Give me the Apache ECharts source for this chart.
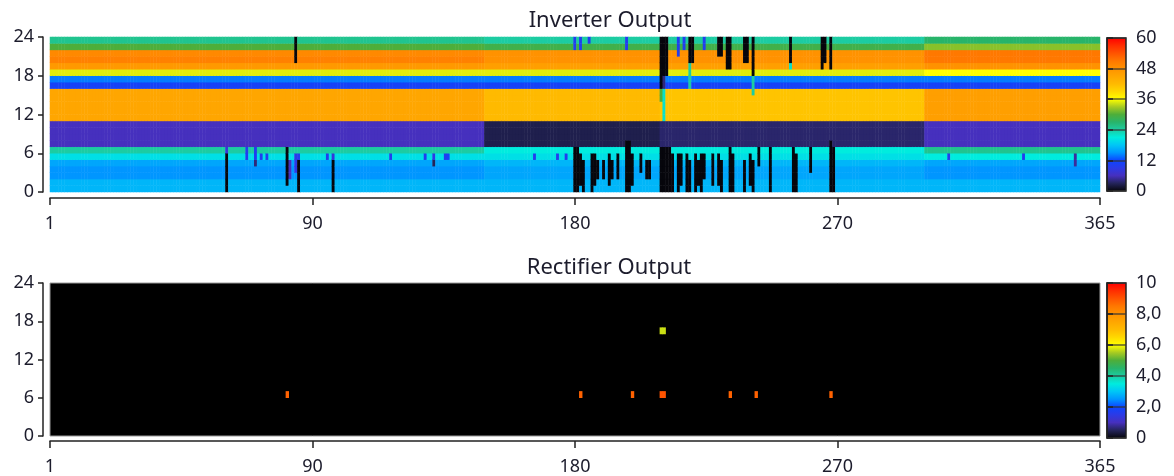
<!DOCTYPE html>
<html>
<head>
<meta charset="utf-8">
<script src="https://cdn.jsdelivr.net/npm/echarts@6/dist/echarts.min.js"></script>
<style>
  html, body { margin: 0; padding: 0; background: #ffffff; }
  #chart { width: 1174px; height: 476px; }
</style>
</head>
<body>
<div id="chart"></div>
<script>
// ---- tick labels ----
const dayTicks = ['1', '90', '180', '270', '365'];
const hourTicks = ['0', '6', '12', '18', '24'];
const inverterScaleTicks = ['0', '12', '24', '36', '48', '60'];
const rectifierScaleTicks = ['0', '2,0', '4,0', '6,0', '8,0', '10'];
const inverterMax = 60;
const rectifierMax = 10;

// ---- inverter output: typical hourly level (hours 0..23) for each operating period ----
const periodStart = [1, 152, 213, 305];
const profileJanMay = [17, 17, 15, 15, 16, 20, 24, 6, 6, 6, 6, 45, 45, 45, 45, 45, 11, 14, 35, 47, 50, 49, 30, 25];
const profileJunJul = [17, 17, 16, 16, 17, 20, 21, 2.5, 2.5, 2.5, 2.5, 42, 42, 42, 42, 42, 11, 14, 35, 46, 48, 48, 29, 24];
const profileAugOct = [17, 17, 16, 16, 17, 20, 21, 3.5, 3.5, 3.5, 3.5, 41, 41, 41, 41, 41, 11, 14, 35, 46, 48, 48, 29, 24];
const profileNovDec = [17, 17, 15, 15, 16, 21, 25, 6, 6, 6, 6, 46, 46, 46, 46, 46, 11, 14, 36, 48, 51, 51, 32, 27];

// ---- inverter readings that depart from the period level: [day, first hour, last hour, value] ----
const inverterEvents = [
  [62, 0, 5, 0], [62, 6, 6, 8], [69, 5, 6, 10], [72, 4, 4, 4], [72, 5, 6, 10],
  [74, 5, 5, 10], [76, 5, 5, 10], [83, 1, 6, 0], [84, 2, 4, 6], [86, 3, 5, 9],
  [86, 20, 23, 0], [87, 0, 4, 0], [87, 5, 5, 10], [97, 5, 5, 10], [99, 0, 4, 0],
  [99, 5, 5, 8], [119, 5, 5, 10], [131, 5, 5, 10], [134, 4, 4, 3], [134, 5, 5, 9],
  [138, 5, 5, 10], [139, 5, 5, 11],
  [169, 5, 5, 10], [177, 5, 5, 10], [180, 5, 5, 10],
  [183, 0, 6, 0], [184, 0, 6, 0], [185, 1, 5, 0], [186, 0, 4, 0], [189, 0, 5, 0],
  [190, 1, 5, 0], [191, 2, 4, 0], [193, 2, 4, 0], [195, 1, 5, 0], [196, 2, 4, 0],
  [198, 2, 5, 0], [201, 0, 7, 0], [202, 0, 7, 0], [203, 1, 5, 0], [206, 3, 5, 0],
  [208, 2, 4, 0], [209, 2, 4, 0],
  [183, 22, 23, 10], [185, 22, 23, 10], [188, 23, 23, 10], [201, 22, 23, 10],
  [213, 0, 6, 0], [214, 0, 6, 0], [215, 0, 6, 0], [216, 0, 6, 0], [217, 0, 5, 0],
  [219, 0, 5, 0], [220, 1, 5, 0], [222, 0, 5, 0], [223, 0, 4, 0], [225, 0, 5, 0],
  [226, 1, 4, 0], [227, 0, 5, 0], [228, 2, 5, 0], [231, 1, 5, 0], [233, 1, 5, 0],
  [234, 0, 4, 0], [237, 0, 6, 0], [238, 0, 5, 0], [242, 0, 4, 0], [244, 1, 5, 0],
  [245, 0, 4, 0], [247, 4, 6, 0], [251, 0, 6, 0], [259, 0, 6, 0], [260, 0, 5, 0],
  [265, 3, 6, 0], [272, 0, 7, 0], [273, 0, 6, 0],
  [213, 16, 23, 0], [214, 18, 23, 0], [215, 18, 23, 0], [214, 16, 17, 4],
  [214, 11, 15, 22], [213, 14, 15, 30],
  [219, 21, 23, 10], [221, 22, 23, 10], [223, 20, 23, 0], [224, 20, 23, 0],
  [223, 16, 19, 24], [228, 22, 23, 10], [233, 21, 23, 0], [234, 21, 23, 0],
  [236, 19, 23, 0], [237, 19, 23, 0], [242, 20, 23, 0], [243, 20, 23, 0],
  [245, 18, 23, 0], [245, 15, 17, 24], [258, 20, 23, 0], [258, 19, 19, 22],
  [269, 19, 23, 0], [270, 20, 23, 0], [272, 19, 23, 0],
  [313, 5, 5, 10], [339, 5, 5, 10], [357, 4, 5, 5]
];

// ---- rectifier output: [day, hour, value]; every other hour reads 0 ----
const rectifierReadings = [
  [83, 6, 8.8], [185, 6, 8.8], [203, 6, 8.8], [213, 6, 9], [214, 6, 9],
  [213, 16, 5.7], [214, 16, 5.7], [237, 6, 8.8], [246, 6, 8.8], [272, 6, 8.8]
];

// colour ramp, evenly spaced from the bottom to the top of each scale
const palette = [
  '#06060c', '#24245a', '#4630be', '#2c3ae6', '#0c46ff', '#0096ff', '#00c6f6',
  '#00ecde', '#1ccca2', '#28b46a', '#4eae3a', '#a6ca22', '#ffff00', '#ffd800',
  '#ffba00', '#ffa600', '#ff9200', '#ff7800', '#ff5400', '#ff2e00', '#ff0000'
];

const days = Array.from({ length: 365 }, (_, i) => String(i + 1));
const hours = Array.from({ length: 24 }, (_, i) => String(i));

// full day x hour table for the inverter heatmap
const profiles = [profileJanMay, profileJunJul, profileAugOct, profileNovDec];
const table = [];
for (let d = 1; d <= 365; d++) {
  let p = 0;
  while (p + 1 < periodStart.length && d >= periodStart[p + 1]) p++;
  table[d] = profiles[p].slice();
}
inverterEvents.forEach(([day, h0, h1, v]) => {
  for (let h = h0; h <= h1; h++) table[day][h] = v;
});
const inverterCells = [];
for (let d = 1; d <= 365; d++) {
  for (let h = 0; h < 24; h++) inverterCells.push([d - 1, h, table[d][h]]);
}
const rectifierCells = rectifierReadings.map(([d, h, v]) => [d - 1, h, v]);

// ---- layout ----
const FONT = 'Noto Sans';
const TEXT = '#1c1c2c';
const AX = '#222222';
const plotLeft = 50, plotWidth = 1050, plotHeight = 155;
const topPlotTop = 37, bottomPlotTop = 283;
const barLeft = 1107, barWidth = 19;

function displayX(gridIndex, offset) {
  return {
    type: 'value', gridIndex, position: 'bottom', offset,
    min: 0, max: dayTicks.length - 1, interval: 1,
    axisLine: { show: true, lineStyle: { color: AX, width: 1.5 } },
    axisTick: { show: true, inside: false, length: 7, lineStyle: { color: AX, width: 1.5 } },
    splitLine: { show: false },
    axisLabel: {
      show: true, margin: 17, color: TEXT, fontFamily: FONT, fontSize: 18,
      formatter: v => dayTicks[Math.round(v)]
    }
  };
}
function hiddenCat(gridIndex, data, pos) {
  return { type: 'category', gridIndex, data, position: pos, show: false, boundaryGap: true };
}
function displayY(gridIndex) {
  return {
    type: 'value', gridIndex, position: 'left', offset: 7,
    min: 0, max: hourTicks.length - 1, interval: 1,
    axisLine: { show: true, lineStyle: { color: AX, width: 1.5 } },
    axisTick: { show: true, inside: false, length: 5, lineStyle: { color: AX, width: 1.5 } },
    splitLine: { show: false },
    axisLabel: {
      show: true, margin: 9, color: TEXT, fontFamily: FONT, fontSize: 18,
      formatter: v => hourTicks[Math.round(v)]
    }
  };
}
function scaleAxis(gridIndex, ticks) {
  return {
    type: 'value', gridIndex, position: 'right', z: 10,
    min: 0, max: ticks.length - 1, interval: 1,
    axisLine: { show: true, lineStyle: { color: AX, width: 1.5 } },
    axisTick: { show: true, inside: false, length: 6, lineStyle: { color: AX, width: 1.5 } },
    splitLine: { show: true, lineStyle: { color: '#333333', width: 1.5, opacity: 0.8 } },
    axisLabel: {
      show: true, margin: 10, color: TEXT, fontFamily: FONT, fontSize: 18,
      formatter: v => ticks[Math.round(v)]
    }
  };
}

const gradientStops = palette.map((c, i) => ({ offset: i / (palette.length - 1), color: c }));

const chart = echarts.init(document.getElementById('chart'), null, { renderer: 'canvas' });
chart.setOption({
  animation: false,
  backgroundColor: '#ffffff',
  grid: [
    { left: plotLeft, top: topPlotTop, width: plotWidth, height: plotHeight },
    { left: plotLeft, top: bottomPlotTop, width: plotWidth, height: plotHeight,
      show: true, backgroundColor: '#000000', borderColor: '#9a9a9a', borderWidth: 1 },
    { left: barLeft, top: topPlotTop + 1, width: barWidth, height: plotHeight - 2,
      show: true, backgroundColor: 'transparent', borderColor: AX, borderWidth: 1.5, z: 10 },
    { left: barLeft, top: bottomPlotTop, width: barWidth, height: plotHeight,
      show: true, backgroundColor: 'transparent', borderColor: AX, borderWidth: 1.5, z: 10 }
  ],
  xAxis: [
    hiddenCat(0, days, 'top'),
    displayX(0, 6),
    hiddenCat(1, days, 'top'),
    displayX(1, 5),
    { type: 'value', gridIndex: 2, show: false, min: 0, max: 1 },
    { type: 'value', gridIndex: 3, show: false, min: 0, max: 1 }
  ],
  yAxis: [
    hiddenCat(0, hours, 'right'),
    displayY(0),
    hiddenCat(1, hours, 'right'),
    displayY(1),
    scaleAxis(2, inverterScaleTicks),
    scaleAxis(3, rectifierScaleTicks)
  ],
  visualMap: [
    { type: 'continuous', show: false, seriesIndex: 0, min: 0, max: inverterMax,
      inRange: { color: palette } },
    { type: 'continuous', show: false, seriesIndex: 1, min: 0, max: rectifierMax,
      inRange: { color: palette } }
  ],
  series: [
    { type: 'heatmap', name: 'Inverter Output', xAxisIndex: 0, yAxisIndex: 0,
      data: inverterCells, progressive: 0, itemStyle: { borderWidth: 0 } },
    { type: 'heatmap', name: 'Rectifier Output', xAxisIndex: 2, yAxisIndex: 2,
      data: rectifierCells, progressive: 0, itemStyle: { borderWidth: 0 } }
  ],
  graphic: [
    { type: 'text', z: 20, style: { text: 'Inverter Output', x: 610, y: 21,
        textAlign: 'center', textVerticalAlign: 'middle',
        font: '22px "' + FONT + '"', fill: TEXT } },
    { type: 'text', z: 20, style: { text: 'Rectifier Output', x: 609, y: 268,
        textAlign: 'center', textVerticalAlign: 'middle',
        font: '22px "' + FONT + '"', fill: TEXT } },
    { type: 'rect', z: 1, shape: { x: barLeft, y: topPlotTop + 1, width: barWidth, height: plotHeight - 2 },
      style: { fill: new echarts.graphic.LinearGradient(0, 1, 0, 0, gradientStops) } },
    { type: 'rect', z: 1, shape: { x: barLeft, y: bottomPlotTop, width: barWidth, height: plotHeight },
      style: { fill: new echarts.graphic.LinearGradient(0, 1, 0, 0, gradientStops) } }
  ]
});
</script>
</body>
</html>
